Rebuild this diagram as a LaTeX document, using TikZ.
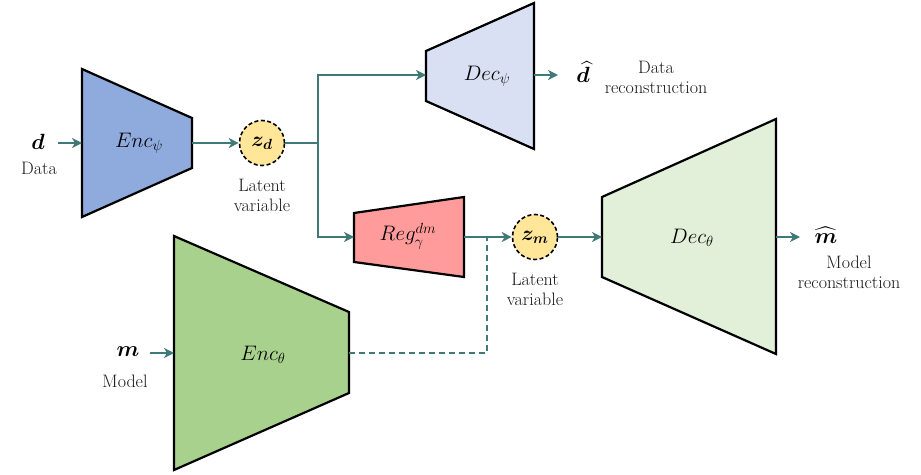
\RequirePackage{fix-cm}
\documentclass[tikz,border=0pt]{standalone}
\usepackage{amsmath}
\usepackage{bm}
\usetikzlibrary{arrows.meta}
\definecolor{teal1}{RGB}{64,122,120}
\definecolor{encblue}{RGB}{143,170,220}
\definecolor{declav}{RGB}{218,224,243}
\definecolor{regpink}{RGB}{255,155,155}
\definecolor{encgreen}{RGB}{169,209,142}
\definecolor{decgreen}{RGB}{226,240,217}
\definecolor{latyel}{RGB}{255,230,153}
\begin{document}
\begin{tikzpicture}[x=1pt,y=-1pt,
  block/.style={draw=black,line width=2.2pt,line join=miter},
  conn/.style={draw=teal1,line width=2.2pt},
  arr/.style={conn,-{Stealth[length=10pt,width=10pt,inset=3pt]}},
  dconn/.style={conn,dash pattern=on 6pt off 4pt},
  latent/.style={circle,draw=black,dash pattern=on 4pt off 2.5pt,line width=1.6pt,fill=latyel,minimum size=45pt,inner sep=0pt,font=\fontsize{21}{23}\selectfont},
  lab/.style={font=\fontsize{21}{23}\selectfont,inner sep=0pt},
  txt/.style={font=\fontsize{18}{20}\selectfont,align=center,inner sep=0pt,text=black!90},
  sym/.style={font=\fontsize{22}{24}\selectfont,inner sep=0pt}]
\useasboundingbox (0,0) rectangle (921,474);
\fill[white] (0,0) rectangle (921,474);

% trapezoids
\filldraw[block,fill=encblue] (82,69) -- (192,118) -- (192,168) -- (82,217) -- cycle;
\filldraw[block,fill=declav] (426,51) -- (534,3) -- (534,149) -- (426,101) -- cycle;
\filldraw[block,fill=regpink] (354,213) -- (464,197) -- (464,277) -- (354,262) -- cycle;
\filldraw[block,fill=encgreen] (174,236) -- (349,312) -- (349,393) -- (174,470) -- cycle;
\filldraw[block,fill=decgreen] (602,197) -- (776,119) -- (776,354) -- (602,277) -- cycle;

% labels of blocks
\node[lab] (encpsi) at (139,143) {$Enc_{\psi}$};
\node[lab] (decpsi) at (487,76) {$Dec_{\psi}$};
\node[lab] (reg) at (408,236) {$Reg_{\gamma}^{dm}$};
\node[lab] (enctheta) at (263,355) {$Enc_{\theta}$};
\node[lab] (dectheta) at (692,238) {$Dec_{\theta}$};

% anchor coordinates
\coordinate (encpsiin) at (82,143);
\coordinate (encpsiout) at (192,143);
\coordinate (decpsiin) at (426,75);
\coordinate (decpsiout) at (534,75);
\coordinate (regin) at (354,237);
\coordinate (regout) at (464,237);
\coordinate (encthetain) at (174,353);
\coordinate (encthetaout) at (349,353);
\coordinate (decthetain) at (602,237);
\coordinate (decthetaout) at (776,237);
\coordinate (split) at (318,143);
\coordinate (splitup) at (318,75);
\coordinate (splitdown) at (318,237);
\coordinate (dashcorner) at (487,353);
\coordinate (dashend) at (487,237);
\coordinate (dstart) at (58,143);
\coordinate (mstart) at (150,353);
\coordinate (dhatarr) at (558,75);
\coordinate (mhatarr) at (800,237);

% latent circles
\node[latent] (zd) at (262,143) {$\bm{z_d}$};
\node[latent] (zm) at (535,237) {$\bm{z_m}$};
\node[txt] (zdtxt) at (262,195) {Latent\\variable};
\node[txt] (zmtxt) at (535,289) {Latent\\variable};

% inputs / outputs
\node[sym] (d) at (38,142) {$\bm{d}$};
\node[txt] (dtxt) at (39,168) {Data};
\node[sym] (m) at (128,352) {$\bm{m}$};
\node[txt] (mtxt) at (125,381) {Model};
\node[sym] (dhat) at (583,72) {$\widehat{\bm{d}}$};
\node[txt] (dhattxt) at (656,77) {Data\\reconstruction};
\node[sym] (mhat) at (826,235) {$\widehat{\bm{m}}$};
\node[txt] (mhattxt) at (849,272) {Model\\reconstruction};

% connectors
\draw[arr] (dstart) -- (encpsiin);
\draw[arr] (encpsiout) -- (zd.west);
\draw[conn] (zd.east) -- (split);
\draw[arr] (splitdown) -- (splitup) -- (decpsiin);
\draw[arr] (split) -- (splitdown) -- (regin);
\draw[arr] (decpsiout) -- (dhatarr);
\draw[arr] (regout) -- (zm.west);
\draw[arr] (zm.east) -- (decthetain);
\draw[arr] (decthetaout) -- (mhatarr);
\draw[arr] (mstart) -- (encthetain);
\draw[dconn] (encthetaout) -- (dashcorner) -- (dashend);
\end{tikzpicture}
\end{document}
